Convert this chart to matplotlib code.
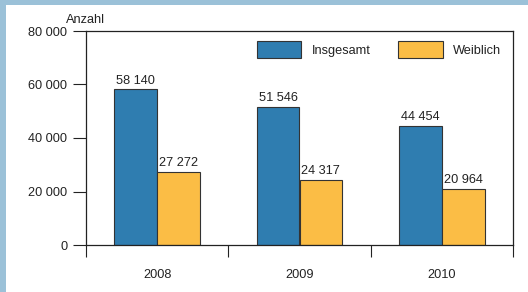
import matplotlib
matplotlib.use('Agg')
import matplotlib.pyplot as plt
import matplotlib.patches as mpatches
from matplotlib.ticker import FuncFormatter, FixedLocator
import numpy as np

BLUE = '#2f7db0'
ORANGE = '#fbbd45'
EDGE = '#333333'
TXT = '#222222'
FRAME = '#9bc1d8'

plt.rcParams.update({
    'font.family': ['Liberation Sans', 'DejaVu Sans'],
    'font.size': 9.2,
    'text.color': TXT,
    'axes.edgecolor': TXT,
    'xtick.color': TXT,
    'ytick.color': TXT,
})

years = ['2008', '2009', '2010']
insgesamt = [58140, 51546, 44454]
weiblich = [27272, 24317, 20964]

W, H = 528, 292
fig = plt.figure(figsize=(W / 100, H / 100), dpi=100)
fig.patch.set_facecolor(FRAME)
fig.patches.append(mpatches.Rectangle((6 / W, 0), 1, 1 - 5 / H, transform=fig.transFigure,
                                      facecolor='white', edgecolor='none', zorder=-5))

ax = fig.add_axes([86 / W, 1 - 245 / H, (513 - 86) / W, (245 - 31) / H])
ax.set_facecolor('white')

x = np.arange(len(years))
bw = 0.3
b1 = ax.bar(x - bw / 2, insgesamt, bw, color=BLUE, edgecolor=EDGE, linewidth=0.8, label='Insgesamt')
b2 = ax.bar(x + bw / 2, weiblich, bw, color=ORANGE, edgecolor=EDGE, linewidth=0.8, label='Weiblich')

fmt = lambda v: f'{int(v):,}'.replace(',', ' ')
for bars in (b1, b2):
    for bar in bars:
        ax.text(bar.get_x() + bar.get_width() / 2, bar.get_height() + 1000, fmt(bar.get_height()),
                ha='center', va='bottom')

ax.set_xlim(-0.5, 2.5)
ax.set_ylim(0, 80000)
ax.set_yticks([0, 20000, 40000, 60000, 80000])
ax.yaxis.set_major_formatter(FuncFormatter(lambda v, p: fmt(v)))
ax.tick_params(axis='y', direction='out', length=9.4, width=0.8, pad=4)

ax.xaxis.set_major_locator(FixedLocator([-0.5, 0.5, 1.5, 2.5]))
ax.xaxis.set_minor_locator(FixedLocator(x))
ax.set_xticklabels([], minor=False)
ax.set_xticklabels(years, minor=True)
ax.tick_params(axis='x', which='major', direction='out', length=8.6, width=0.8)
ax.tick_params(axis='x', which='minor', length=0, pad=17.5)

for s in ax.spines.values():
    s.set_linewidth(0.9)

ax.text(-0.047, 1.025, 'Anzahl', transform=ax.transAxes, ha='left', va='bottom')

ax.legend(loc='upper right', bbox_to_anchor=(1.0, 1.005), ncol=2, frameon=False,
          handlelength=3.5, handleheight=1.6, handletextpad=0.8, columnspacing=2.2)

fig.savefig('out.png', dpi=100)
